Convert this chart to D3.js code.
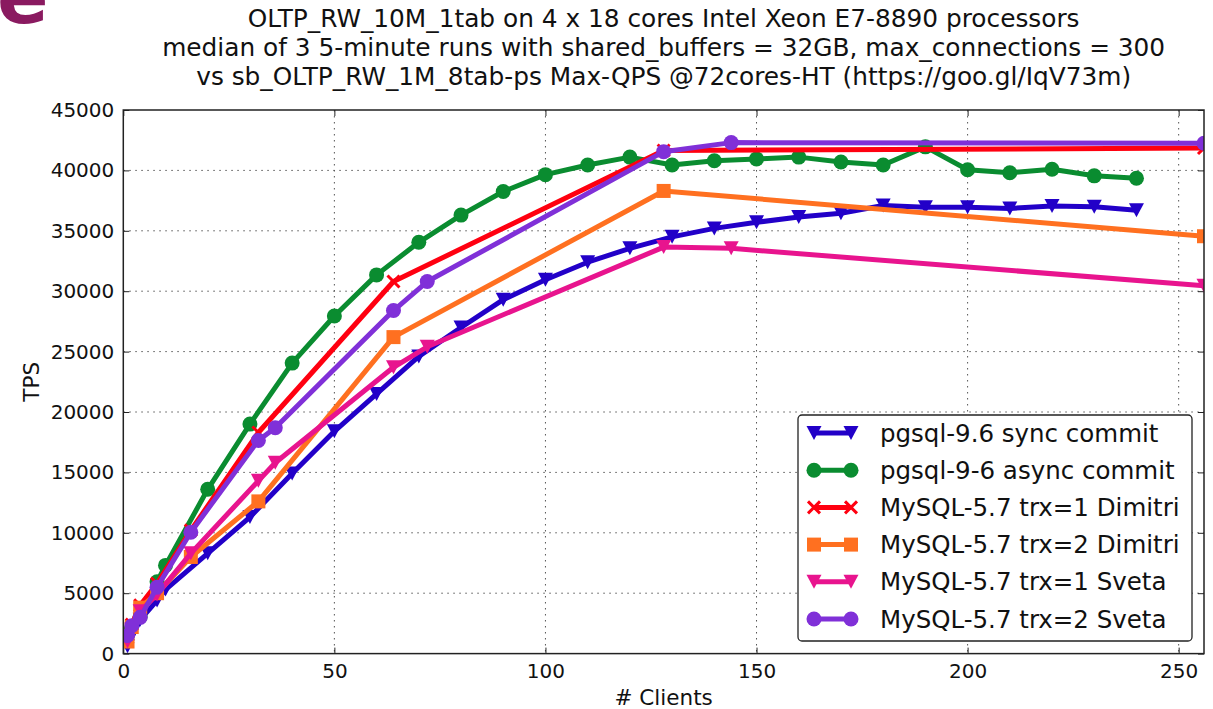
<!DOCTYPE html>
<html>
<head>
<meta charset="utf-8">
<script src="https://cdn.jsdelivr.net/npm/d3@7"></script>
<style>
  body { margin: 0; background: #fff; }
  svg { display: block; font-family: "DejaVu Sans", sans-serif; }
</style>
</head>
<body>
<svg id="chart" width="1213" height="709"></svg>
<script>
// title lines
const titleLines = [
    "OLTP_RW_10M_1tab on 4 x 18 cores Intel Xeon E7-8890 processors",
    "median of 3 5-minute runs with shared_buffers = 32GB, max_connections = 300",
    "vs sb_OLTP_RW_1M_8tab-ps Max-QPS @72cores-HT (https://goo.gl/IqV73m)"
];

// client counts per series
const pgClients = [1, 4, 8, 10, 20, 30, 40, 50, 60, 70, 80, 90, 100, 110, 120, 130, 140, 150, 160, 170, 180, 190, 200, 210, 220, 230, 240];
const dimitriClients = [1, 2, 4, 8, 16, 32, 64, 128, 256];
const svetaClients = [1, 2, 4, 8, 16, 32, 36, 64, 72, 128, 144, 256];

// TPS values
const pgSync = [600, 2800, 4400, 5300, 8300, 11300, 14900, 18400, 21500, 24600, 27000, 29300, 30950, 32400, 33550, 34500, 35200, 35700, 36150, 36450, 37100, 36950, 36950, 36850, 37050, 37000, 36700];
const pgAsync = [1700, 3050, 5950, 7300, 13600, 19000, 24050, 27950, 31350, 34050, 36300, 38250, 39650, 40450, 41100, 40450, 40800, 40950, 41100, 40700, 40450, 41950, 40050, 39800, 40100, 39550, 39350];
const dimitriTrx1 = [1300, 2400, 4000, 5800, 10200, 18300, 30800, 41650, 41850];
const dimitriTrx2 = [1000, 2200, 3800, 5000, 8000, 12600, 26200, 38300, 34550];
const svetaTrx1 = [1000, 2000, 3500, 4900, 8300, 14300, 15800, 23700, 25400, 33650, 33550, 30450];
const svetaTrx2 = [1500, 2300, 3000, 5500, 10050, 17650, 18700, 28400, 30800, 41550, 42300, 42250];

// axis ticks
const xTicks = [0, 50, 100, 150, 200, 250];
const yTicks = [0, 5000, 10000, 15000, 20000, 25000, 30000, 35000, 40000, 45000];

const series = [
    { name: "pgsql-9.6 sync commit", x: pgClients, y: pgSync, color: "#2200c8", marker: "tridown" },
    { name: "pgsql-9-6 async commit", x: pgClients, y: pgAsync, color: "#0a8c30", marker: "circle" },
    { name: "MySQL-5.7 trx=1 Dimitri", x: dimitriClients, y: dimitriTrx1, color: "#ff0010", marker: "x" },
    { name: "MySQL-5.7 trx=2 Dimitri", x: dimitriClients, y: dimitriTrx2, color: "#ff7020", marker: "square" },
    { name: "MySQL-5.7 trx=1 Sveta", x: svetaClients, y: svetaTrx1, color: "#e8148e", marker: "tridown" },
    { name: "MySQL-5.7 trx=2 Sveta", x: svetaClients, y: svetaTrx2, color: "#8030d8", marker: "circle" }
];

const svg = d3.select("#chart");
const margin = { left: 123.3, right: 1204, top: 110, bottom: 653.6 };

const x = d3.scaleLinear().domain([0, 256]).range([margin.left, margin.right]);
const y = d3.scaleLinear().domain([0, 45000]).range([margin.bottom, margin.top]);

// logo fragment top-left (cut off by the page edge, as in the slide)
svg.append("text")
    .attr("x", -3).attr("y", 23)
    .attr("font-size", 76).attr("font-weight", "bold")
    .attr("font-family", "DejaVu Sans, sans-serif")
    .attr("fill", "#8a1a60")
    .text("e");

// title
svg.append("g").selectAll("text")
    .data(titleLines)
    .join("text")
    .attr("x", (margin.left + margin.right) / 2)
    .attr("y", (d, i) => 27 + i * 29)
    .attr("text-anchor", "middle")
    .attr("font-size", 24.8)
    .attr("fill", "#111")
    .text(d => d);

// grid
const grid = svg.append("g")
    .attr("stroke", "#555")
    .attr("stroke-width", 1)
    .attr("stroke-dasharray", "1.5,4.5");
grid.selectAll(".gx")
    .data(xTicks.filter(d => d > 0))
    .join("line")
    .attr("x1", d => x(d)).attr("x2", d => x(d))
    .attr("y1", margin.top).attr("y2", margin.bottom);
grid.selectAll(".gy")
    .data(yTicks.filter(d => d > 0 && d < 45000))
    .join("line")
    .attr("x1", margin.left).attr("x2", margin.right)
    .attr("y1", d => y(d)).attr("y2", d => y(d));

// axes with inward ticks
const xAxis = svg.append("g")
    .attr("transform", `translate(0,${margin.bottom})`)
    .call(d3.axisBottom(x).tickValues(xTicks).tickSizeInner(-6).tickSizeOuter(0).tickPadding(10));
const xAxisTop = svg.append("g")
    .attr("transform", `translate(0,${margin.top})`)
    .call(d3.axisTop(x).tickValues(xTicks).tickSizeInner(-6).tickSizeOuter(0).tickFormat(""));
const yAxis = svg.append("g")
    .attr("transform", `translate(${margin.left},0)`)
    .call(d3.axisLeft(y).tickValues(yTicks).tickFormat(d3.format("d")).tickSizeInner(-6).tickSizeOuter(0).tickPadding(9));
const yAxisRight = svg.append("g")
    .attr("transform", `translate(${margin.right},0)`)
    .call(d3.axisRight(y).tickValues(yTicks).tickSizeInner(-6).tickSizeOuter(0).tickFormat(""));

[xAxis, xAxisTop, yAxis, yAxisRight].forEach(a => {
    a.select(".domain").remove();
    a.selectAll("line").attr("stroke", "#222");
    a.selectAll("text").attr("font-size", 20).attr("fill", "#111").attr("font-family", "DejaVu Sans, sans-serif");
});

// axis labels
svg.append("text")
    .attr("x", (margin.left + margin.right) / 2).attr("y", 705)
    .attr("text-anchor", "middle").attr("font-size", 21.5).attr("fill", "#111")
    .text("# Clients");
svg.append("text")
    .attr("transform", `translate(39,${(margin.top + margin.bottom) / 2}) rotate(-90)`)
    .attr("text-anchor", "middle").attr("font-size", 21.5).attr("fill", "#111")
    .text("TPS");

// markers
function drawMarker(g, type, color, cx, cy) {
    if (type === "circle") {
        g.append("circle").attr("cx", cx).attr("cy", cy).attr("r", 7.5).attr("fill", color);
    } else if (type === "square") {
        g.append("rect").attr("x", cx - 7).attr("y", cy - 7).attr("width", 14).attr("height", 14).attr("fill", color);
    } else if (type === "tridown") {
        g.append("path")
            .attr("d", `M${cx - 7.5},${cy - 7} L${cx + 7.5},${cy - 7} L${cx},${cy + 7} Z`)
            .attr("fill", color);
    } else if (type === "x") {
        g.append("path")
            .attr("d", `M${cx - 6},${cy - 6} L${cx + 6},${cy + 6} M${cx - 6},${cy + 6} L${cx + 6},${cy - 6}`)
            .attr("stroke", color).attr("stroke-width", 3).attr("fill", "none");
    }
}

// plot clip
svg.append("clipPath").attr("id", "plotclip")
    .append("rect")
    .attr("x", margin.left).attr("y", margin.top - 10)
    .attr("width", margin.right - margin.left).attr("height", margin.bottom - margin.top + 10);

const plot = svg.append("g").attr("clip-path", "url(#plotclip)");
const line = d3.line().x(d => x(d[0])).y(d => y(d[1]));

series.forEach(s => {
    const pts = s.x.map((v, i) => [v, s.y[i]]);
    const g = plot.append("g");
    g.append("path")
        .datum(pts)
        .attr("d", line)
        .attr("fill", "none")
        .attr("stroke", s.color)
        .attr("stroke-width", 5)
        .attr("stroke-linejoin", "round");
    pts.forEach(p => drawMarker(g, s.marker, s.color, x(p[0]), y(p[1])));
});

// frame
svg.append("rect")
    .attr("x", margin.left).attr("y", margin.top)
    .attr("width", margin.right - margin.left).attr("height", margin.bottom - margin.top)
    .attr("fill", "none").attr("stroke", "#222").attr("stroke-width", 1.5);

// legend
const legend = svg.append("g");
legend.append("rect")
    .attr("x", 798).attr("y", 415)
    .attr("width", 394).attr("height", 226)
    .attr("rx", 4)
    .attr("fill", "#fff").attr("stroke", "#222").attr("stroke-width", 1.3);

series.forEach((s, i) => {
    const ly = 433 + i * 37.2;
    legend.append("line")
        .attr("x1", 814).attr("x2", 851)
        .attr("y1", ly).attr("y2", ly)
        .attr("stroke", s.color).attr("stroke-width", 5);
    drawMarker(legend, s.marker, s.color, 814, ly);
    drawMarker(legend, s.marker, s.color, 851, ly);
    legend.append("text")
        .attr("x", 880).attr("y", ly + 8.5)
        .attr("font-size", 24.5).attr("fill", "#111")
        .text(s.name);
});
</script>
</body>
</html>
